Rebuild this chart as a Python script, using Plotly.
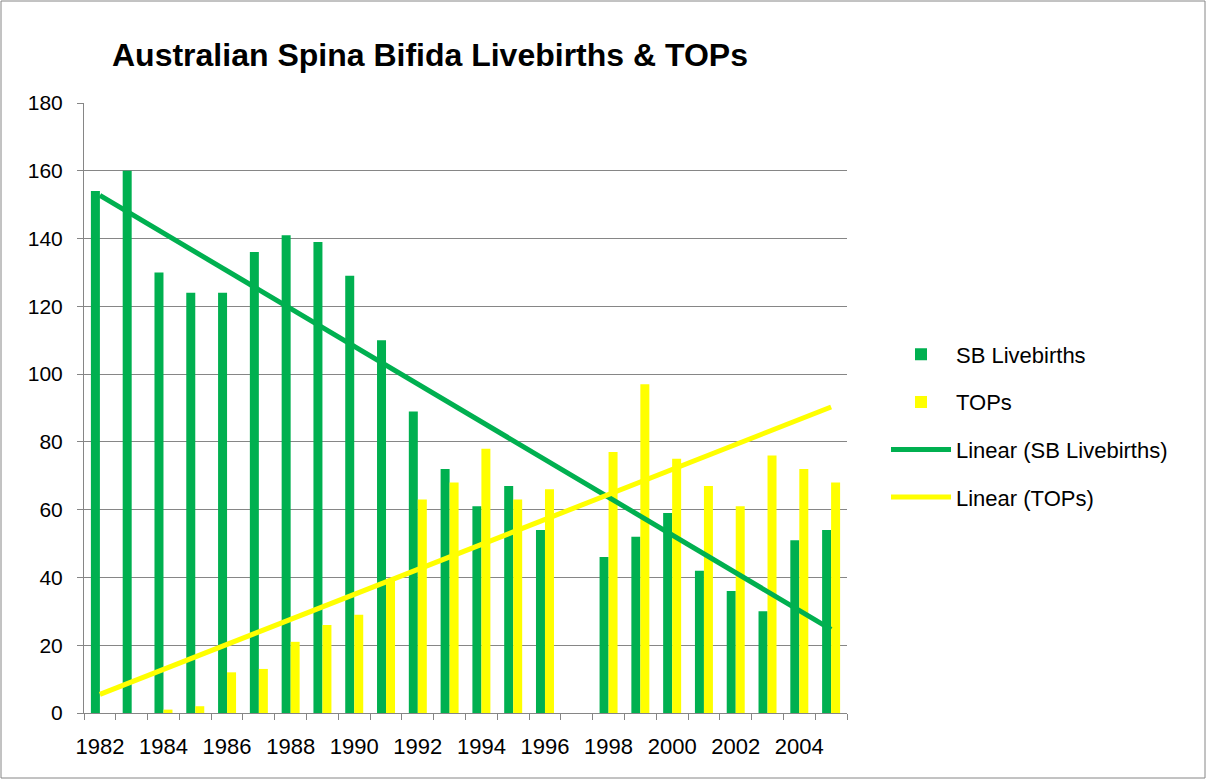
import numpy as np
import plotly.graph_objects as go

years = list(range(1982, 2006))
sb_livebirths = [154, 160, 130, 124, 124, 136, 141, 139, 129, 110, 89, 72,
                 61, 67, 54, None, 46, 52, 59, 42, 36, 30, 51, 54]
tops = [None, None, 1, 2, 12, 13, 21, 26, 29, 39, 63, 68,
        78, 63, 66, None, 77, 97, 75, 67, 61, 76, 72, 68]
tick_years = list(range(1982, 2006, 2))

GREEN = "#00B050"
YELLOW = "#FFFF00"
FONT = "Liberation Sans"


def trend(vals):
    xs = np.array([y for y, v in zip(years, vals) if v is not None], float)
    ys = np.array([v for v in vals if v is not None], float)
    m, b = np.polyfit(xs, ys, 1)
    xe = np.array([years[0], years[-1]], float)
    return xe, m * xe + b


fig = go.Figure()
fig.add_trace(go.Bar(x=years, y=sb_livebirths, name="SB Livebirths",
                     marker=dict(color=GREEN, line=dict(width=0)),
                     legendgroup="a"))
fig.add_trace(go.Bar(x=years, y=tops, name="TOPs",
                     marker=dict(color=YELLOW, line=dict(width=0)),
                     legendgroup="b"))
tx, ty = trend(sb_livebirths)
fig.add_trace(go.Scatter(x=tx, y=ty, mode="lines", name="Linear (SB Livebirths)",
                         line=dict(color=GREEN, width=5), legendgroup="c"))
tx, ty = trend(tops)
fig.add_trace(go.Scatter(x=tx, y=ty, mode="lines", name="Linear (TOPs)",
                         line=dict(color=YELLOW, width=5), legendgroup="d"))

L, R, T, B = 84, 1207 - 847, 103, 780 - 713
W, H = 1207, 780
pw, ph = W - L - R, H - T - B


def px(x):
    return (x - L) / pw


def py(y):
    return (H - B - y) / ph


fig.update_layout(
    width=W, height=H,
    margin=dict(l=L, r=R, t=T, b=B, pad=0),
    paper_bgcolor="white", plot_bgcolor="white",
    barmode="group", bargap=0.434, bargroupgap=0,
    font=dict(family=FONT, size=21, color="black"),
    title=dict(text="<b>Australian Spina Bifida Livebirths &amp; TOPs</b>",
               x=430 / W, xanchor="center", y=1 - 55 / H, yanchor="middle",
               font=dict(family=FONT, size=32, color="black")),
    legend=dict(x=px(886), xanchor="left", y=py(426), yanchor="middle",
                font=dict(family=FONT, size=22), tracegroupgap=16,
                itemwidth=60, bgcolor="rgba(0,0,0,0)"),
    xaxis=dict(range=[1981.5, 2005.5], tickmode="array", tickvals=tick_years,
               ticktext=[str(y) for y in tick_years], ticks="",
               showline=True, linecolor="#868686", linewidth=1,
               showgrid=False, zeroline=False, ticklabelstandoff=14,
               minor=dict(tickmode="array",
                          tickvals=[y - 0.5 for y in years] + [2005.5],
                          ticks="outside", ticklen=6, tickcolor="#868686",
                          showgrid=False),
               tickfont=dict(size=22)),
    yaxis=dict(range=[0, 180], dtick=20, ticks="outside", ticklen=6,
               tickcolor="#868686", showline=True, linecolor="#868686",
               linewidth=1, showgrid=True, gridcolor="#868686", gridwidth=1,
               zeroline=False, ticklabelstandoff=10, tickfont=dict(size=21)),
    shapes=[dict(type="rect", xref="paper", yref="paper",
                 x0=px(1), x1=px(1205), y0=py(778), y1=py(1),
                 line=dict(color="#868686", width=1), layer="below")],
)

fig.write_html("out.html",
               config={"displayModeBar": False},
               post_script="document.body.style.margin='0';"
                           "document.body.style.overflow='hidden';")
